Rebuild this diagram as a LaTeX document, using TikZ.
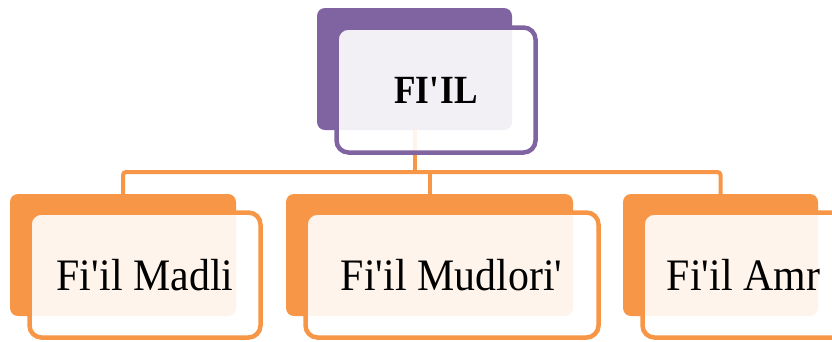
\documentclass[tikz,border=0pt]{standalone}
\usepackage{fontspec}
\setmainfont{Liberation Serif}
\usepackage{xcolor}
\usetikzlibrary{positioning}

\definecolor{filpurple}{HTML}{8064A2}
\definecolor{filorange}{HTML}{F79646}
\newcommand{\apos}{\textquotesingle}

\begin{document}
\begin{tikzpicture}[
  x=1pt,
  y=-1pt,
  backbox/.style={
    rectangle,
    rounded corners=8pt,
    minimum height=122pt,
    inner sep=0pt
  },
  frontbox/.style={
    rectangle,
    rounded corners=12pt,
    line width=4.5pt,
    fill=white,
    fill opacity=0.9,
    text opacity=1,
    minimum height=125pt,
    inner sep=0pt,
    font=\fontsize{45}{52}\selectfont\addfontfeature{FakeStretch=0.93}
  },
  link/.style={
    draw=filorange,
    line width=4pt,
    rounded corners=3pt
  }
]
  \useasboundingbox (0,0) rectangle (832,341);
  \clip (0,0) rectangle (832,341);

  % Back blocks
  \node[backbox, fill=filpurple, minimum width=195pt] (filback) at (414.5,69) {};
  \node[backbox, fill=filorange, minimum width=226pt] (madliback) at (123,255) {};
  \node[backbox, fill=filorange, minimum width=287pt] (mudloriback) at (429.5,255) {};
  \node[backbox, fill=filorange, minimum width=195pt] (amrback) at (720.5,255) {};

  % Connectors
  \coordinate (bus) at (0,172);
  \draw[link] (filback.south) -- (filback.south |- bus);
  \draw[link] (madliback.north) |- (mudloriback.north |- bus) -| (amrback.north);
  \draw[link] (mudloriback.north) -- (mudloriback.north |- bus);

  % Front blocks
  \node[frontbox, draw=filpurple, minimum width=199pt,
    font=\bfseries\fontsize{40}{46}\selectfont\addfontfeature{FakeStretch=0.88}] (fil) at (436,90) {FI\apos IL};
  \node[frontbox, draw=filorange, minimum width=231pt] (madli) at (145,275) {Fi\apos il Madli};
  \node[frontbox, draw=filorange, minimum width=293pt] (mudlori) at (452,275) {Fi\apos il Mudlori\apos};
  \node[frontbox, draw=filorange, minimum width=202pt] (amr) at (743.5,275) {Fi\apos il Amr};

\end{tikzpicture}
\end{document}
